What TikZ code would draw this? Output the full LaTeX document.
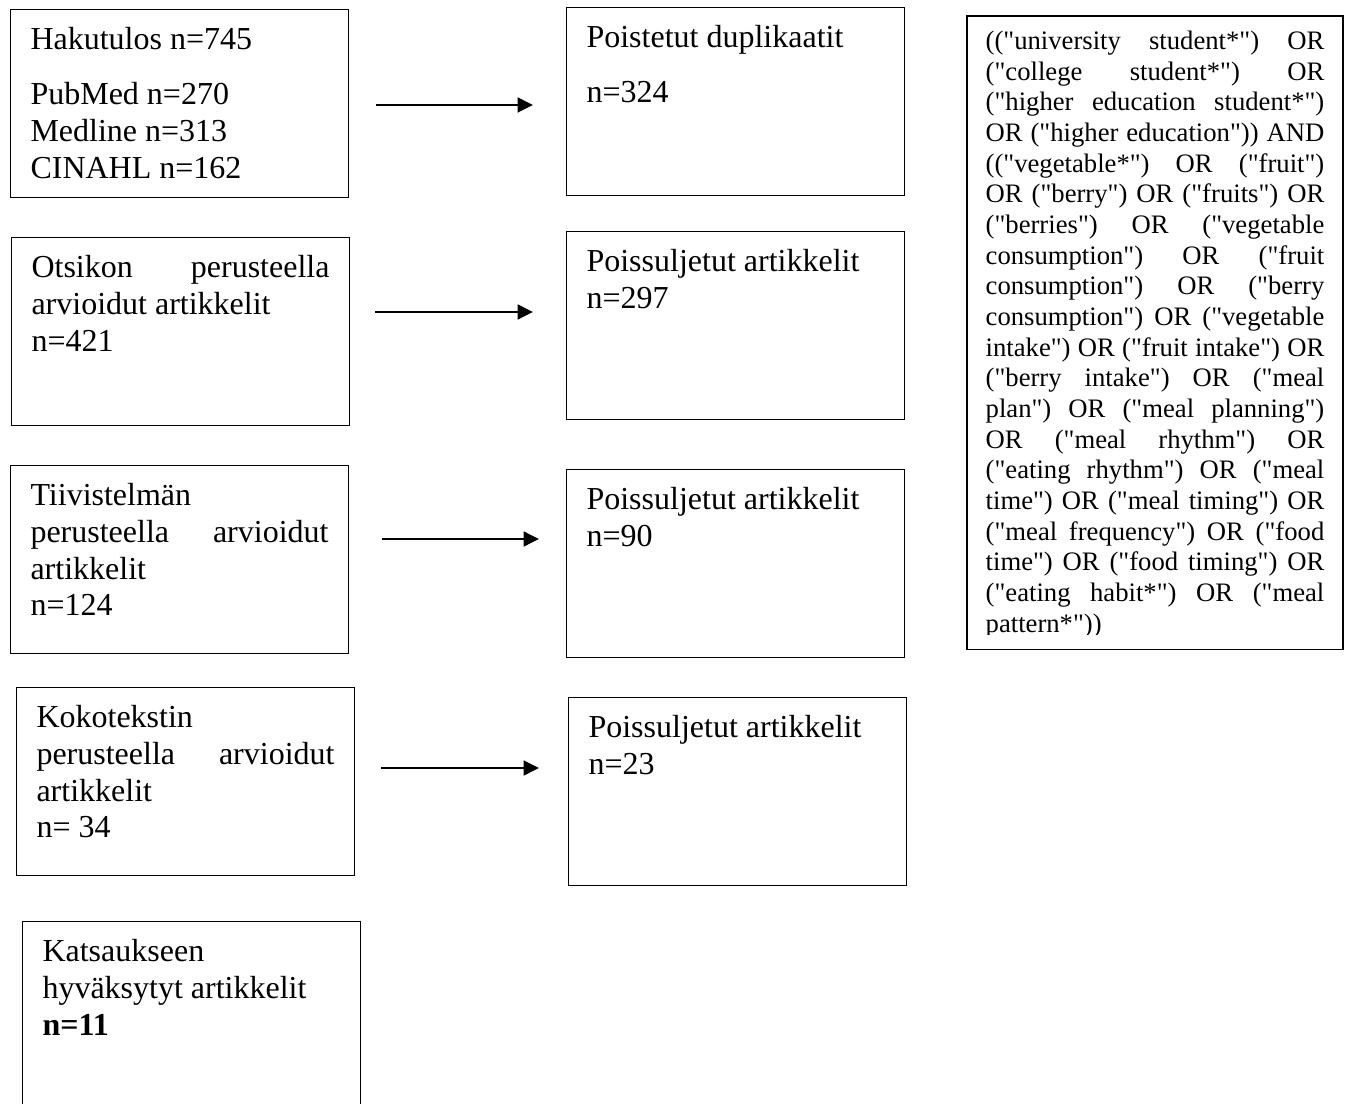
\documentclass[tikz,border=0pt]{standalone}
\usepackage{fontspec}
\setmainfont{Liberation Serif}[Ligatures=TeXOff]
\usetikzlibrary{arrows.meta}
\tolerance=10000
\hbadness=10000

\begin{document}
\begin{tikzpicture}[x=0.375pt,y=-0.375pt,
	laatikko/.style={rectangle, draw, line width=0.4pt, anchor=north west, inner xsep=7.5pt, inner ysep=0pt, text width=111.75pt, align=justify, text height=15pt, text depth=55.5pt, font=\fontsize{12}{13.8}\selectfont},
	nuoli/.style={-{Triangle[length=5.8pt,width=5.6pt]}, line width=0.75pt}]
	\useasboundingbox (0,0) rectangle (1351,1104);
	% vasen sarake
	\node (H) at (10,9) [laatikko] {Hakutulos n=745\\[6.8pt] PubMed n=270\\ Medline n=313\\ CINAHL n=162};
	\node (O) at (11,237) [laatikko] {Otsikon perusteella\linebreak arvioidut artikkelit\\ n=421};
	\node (Ti) at (10,465) [laatikko] {Tiivistelmän\\ perusteella arvioidut\linebreak artikkelit\\ n=124};
	\node (Ko) at (16,687) [laatikko] {Kokotekstin\\ perusteella arvioidut\linebreak artikkelit\\ n= 34};
	\node (Ka) at (22,921) [laatikko, text depth=65pt] {Katsaukseen\\ hyväksytyt artikkelit\\ \textbf{n=11}};
	% poissuljetut
	\node (P1) at (566,7) [laatikko] {Poistetut duplikaatit\\[6.8pt] n=324};
	\node (P2) at (566,231) [laatikko] {Poissuljetut artikkelit\\ n=297};
	\node (P3) at (566,469) [laatikko] {Poissuljetut artikkelit\\ n=90};
	\node (P4) at (568,697) [laatikko] {Poissuljetut artikkelit\\ n=23};
	% hakulauseke
	\begin{scope}
	\clip (900,0) rectangle (1351,634);
	\node (L) at (967,16) [laatikko, draw=none, inner xsep=6.8pt, text width=127pt, text height=12.4pt, text depth=224.6pt, font=\fontsize{10}{11.5}\selectfont] {(("university student*") OR\linebreak
	("college student*") OR\linebreak
	("higher education student*")\linebreak
	OR ("higher education")) AND\linebreak
	(("vegetable*") OR ("fruit")\linebreak
	OR ("berry") OR ("fruits") OR\linebreak
	("berries") OR ("vegetable\linebreak
	consumption") OR ("fruit\linebreak
	consumption") OR ("berry\linebreak
	consumption") OR ("vegetable\linebreak
	intake") OR ("fruit intake") OR\linebreak
	("berry intake") OR ("meal\linebreak
	plan") OR ("meal planning")\linebreak
	OR ("meal rhythm") OR\linebreak
	("eating rhythm") OR ("meal\linebreak
	time") OR ("meal timing") OR\linebreak
	("meal frequency") OR ("food\linebreak
	time") OR ("food timing") OR\linebreak
	("eating habit*") OR ("meal\linebreak
	pattern*"))};
	\end{scope}
	\draw[line width=0.4pt] (L.north west) rectangle (L.south east);
	% nuolet
	\coordinate (a1) at (376,105);
	\coordinate (b1) at (533,105);
	\coordinate (a2) at (375,312);
	\coordinate (b2) at (533,312);
	\coordinate (a3) at (382,539);
	\coordinate (b3) at (539,539);
	\coordinate (a4) at (381,768);
	\coordinate (b4) at (539,768);
	\draw[nuoli] (a1) -- (b1);
	\draw[nuoli] (a2) -- (b2);
	\draw[nuoli] (a3) -- (b3);
	\draw[nuoli] (a4) -- (b4);
\end{tikzpicture}
\end{document}
